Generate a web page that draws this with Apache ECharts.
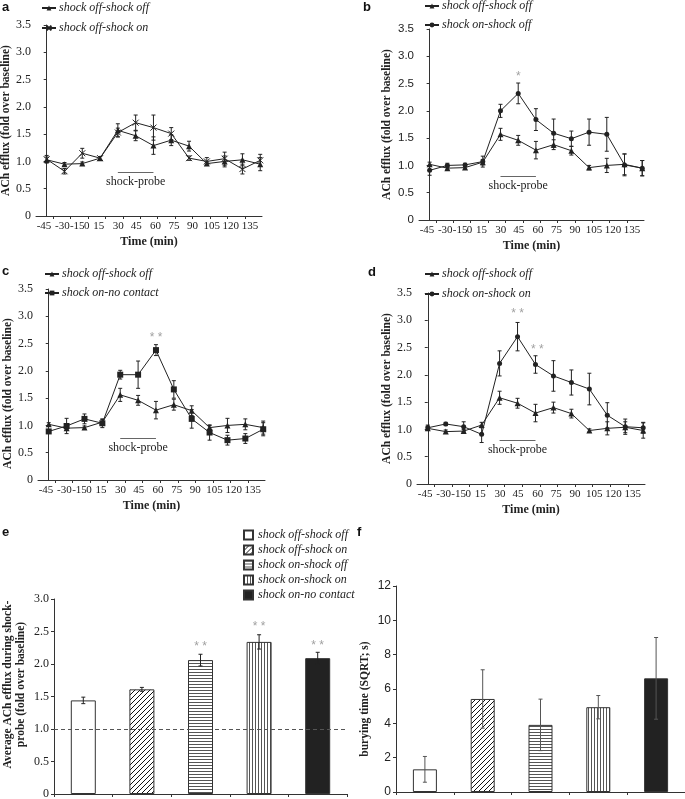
<!DOCTYPE html>
<html><head><meta charset="utf-8">
<script src="https://cdn.jsdelivr.net/npm/echarts@6/dist/echarts.min.js"></script>
<style>html,body{margin:0;padding:0;background:#fff}#c{width:685px;height:799px}</style>
</head><body><div id="c"></div>
<script>
// ---------- data ----------
const TIME_LABELS = ['-45','-30','-15','0','15','30','45','60','75','90','105','120','135'];
const SHOCK_PROBE = [4, 6];            // index span of the shock-probe period

const A_OFF_OFF     = [1.03,0.95,0.96,1.06,1.57,1.47,1.29,1.39,1.28,0.96,1.00,1.03,0.95];
const A_OFF_OFF_ERR = [0.05,0.03,0.03,0.03,0.12,0.09,0.16,0.10,0.09,0.03,0.10,0.11,0.12];
const A_OFF_ON      = [1.04,0.82,1.15,1.06,1.53,1.71,1.62,1.51,1.06,1.00,1.05,0.86,1.02];
const A_OFF_ON_ERR  = [0.07,0.05,0.09,0.03,0.08,0.14,0.23,0.11,0.04,0.07,0.12,0.09,0.11];

const B_OFF_OFF     = [1.02,0.95,0.96,1.06,1.57,1.46,1.28,1.38,1.27,0.96,1.00,1.02,0.95];
const B_OFF_OFF_ERR = [0.04,0.03,0.03,0.05,0.11,0.09,0.16,0.09,0.08,0.04,0.13,0.19,0.14];
const B_ON_OFF      = [0.91,1.00,1.01,1.07,2.00,2.32,1.84,1.59,1.49,1.61,1.57,1.01,0.95];
const B_ON_OFF_ERR  = [0.09,0.04,0.03,0.10,0.12,0.19,0.20,0.26,0.14,0.24,0.31,0.20,0.14];

const C_OFF_OFF     = [1.02,0.95,0.96,1.06,1.56,1.46,1.28,1.38,1.27,0.96,1.00,1.02,0.96];
const C_OFF_OFF_ERR = [0.03,0.03,0.03,0.05,0.12,0.09,0.16,0.10,0.09,0.04,0.13,0.10,0.12];
const C_ON_NC       = [0.89,0.99,1.12,1.04,1.93,1.93,2.38,1.66,1.12,0.87,0.73,0.76,0.93];
const C_ON_NC_ERR   = [0.03,0.14,0.09,0.08,0.08,0.25,0.10,0.16,0.17,0.14,0.09,0.09,0.12];

const D_OFF_OFF     = [1.02,0.96,0.97,1.08,1.58,1.48,1.30,1.40,1.29,0.98,1.02,1.04,0.98];
const D_OFF_OFF_ERR = [0.04,0.03,0.03,0.05,0.12,0.09,0.16,0.10,0.08,0.03,0.12,0.10,0.14];
const D_ON_ON       = [1.03,1.10,1.05,0.91,2.21,2.70,2.19,1.98,1.86,1.74,1.26,1.05,1.03];
const D_ON_ON_ERR   = [0.05,0.03,0.09,0.15,0.23,0.26,0.16,0.28,0.23,0.29,0.23,0.14,0.10];

// significance marks: [x index, y value, text]
const B_STARS = [[5, 2.62, '*']];
const C_STARS = [[6, 2.60, '* *']];
const D_STARS = [[5, 3.12, '* *'], [6.1, 2.47, '* *']];

const GROUPS = ['shock off-shock off','shock off-shock on','shock on-shock off','shock on-shock on','shock on-no contact'];
const E_MEAN = [1.44, 1.61, 2.06, 2.34, 2.09];
const E_ERR  = [0.05, 0.03, 0.09, 0.11, 0.09];
const E_STARS = [[2, 2.27, '* *'], [3, 2.57, '* *'], [4, 2.28, '* *']];
const F_MEAN = [1.32, 5.42, 3.91, 4.94, 6.62];
const F_ERR  = [0.75, 1.70, 1.50, 0.68, 2.38];

// ---------- layout / style ----------
const LABEL_POS = [-0.15, 0.88, 1.72, 2.25, 2.93, 4.02, 5.03, 6.12, 7.16, 8.2, 9.28, 10.35, 11.42];
const TICK_POS = [0.36,1.34,2.32,3.3,4.28,5.26,6.24,7.22,8.2,9.18,10.16,11.14];
const SERIF = '"Liberation Serif","Times New Roman",serif';
const SANS = '"Liberation Sans",Arial,sans-serif';
const INK = '#222';
const AX = '#333';
const X_PATH = 'path://M0,0L10,10M10,0L0,10';

function pattern(kind) {
  const c = document.createElement('canvas');
  const g = c.getContext('2d');
  if (kind === 'diag') {
    c.width = 5; c.height = 5;
    g.fillStyle = '#fff'; g.fillRect(0,0,5,5);
    g.strokeStyle = '#111'; g.lineWidth = 1;
    g.beginPath(); g.moveTo(-1,6); g.lineTo(6,-1); g.moveTo(-1,1); g.lineTo(1,-1); g.moveTo(4,6); g.lineTo(6,4); g.stroke();
  } else if (kind === 'hor') {
    c.width = 4; c.height = 3;
    g.fillStyle = '#fff'; g.fillRect(0,0,4,3);
    g.fillStyle = '#555'; g.fillRect(0,0,4,1);
  } else {
    c.width = 3; c.height = 4;
    g.fillStyle = '#fff'; g.fillRect(0,0,3,4);
    g.fillStyle = '#555'; g.fillRect(0,0,1,4);
  }
  return {image: c, repeat: 'repeat'};
}
const FILLS = ['#fff', pattern('diag'), pattern('hor'), pattern('ver'), '#222'];

function errRender(color, cap) {
  return function (params, api) {
    const x = api.value(0), y = api.value(1), e = api.value(2);
    const hi = api.coord([x, y + e]), lo = api.coord([x, y - e]);
    const st = {stroke: color, lineWidth: 1};
    return {type: 'group', children: [
      {type: 'line', shape: {x1: hi[0], y1: hi[1], x2: lo[0], y2: lo[1]}, style: st},
      {type: 'line', shape: {x1: hi[0]-cap, y1: hi[1], x2: hi[0]+cap, y2: hi[1]}, style: st},
      {type: 'line', shape: {x1: lo[0]-cap, y1: lo[1], x2: lo[0]+cap, y2: lo[1]}, style: st}
    ]};
  };
}

const grids = [], xAxes = [], yAxes = [], series = [], legends = [];

const PANELS = [
  {grid: {left: 36, top: 25, width: 226, height: 191}, yFont: SERIF, nameGap: 22, namePad: [0,0,0,0], legend: {left: 41, top: 2, gap: 8},
   series: [
     {name: 'shock off-shock off', v: A_OFF_OFF, e: A_OFF_OFF_ERR, symbol: 'triangle', size: 6},
     {name: 'shock off-shock on', v: A_OFF_ON, e: A_OFF_ON_ERR, symbol: X_PATH, size: 6, hollow: true}],
   probe: 0.81, stars: []},
  {grid: {left: 419, top: 29, width: 225, height: 191}, yFont: SANS, nameGap: 26, namePad: [0,0,0,0], legend: {left: 424, top: 0, gap: 7},
   series: [
     {name: 'shock off-shock off', v: B_OFF_OFF, e: B_OFF_OFF_ERR, symbol: 'triangle', size: 6},
     {name: 'shock on-shock off', v: B_ON_OFF, e: B_ON_OFF_ERR, symbol: 'circle', size: 5}],
   probe: 0.80, stars: B_STARS},
  {grid: {left: 38, top: 289, width: 227, height: 191}, yFont: SERIF, nameGap: 24, namePad: [0,18,0,0], legend: {left: 44, top: 268, gap: 7},
   series: [
     {name: 'shock off-shock off', v: C_OFF_OFF, e: C_OFF_OFF_ERR, symbol: 'triangle', size: 6},
     {name: 'shock on-no contact', v: C_ON_NC, e: C_ON_NC_ERR, symbol: 'rect', size: 6}],
   probe: 0.77, stars: C_STARS},
  {grid: {left: 417, top: 293, width: 228, height: 191}, yFont: SERIF, nameGap: 23, namePad: [0,0,0,0], legend: {left: 424, top: 268, gap: 8},
   series: [
     {name: 'shock off-shock off', v: D_OFF_OFF, e: D_OFF_OFF_ERR, symbol: 'triangle', size: 6},
     {name: 'shock on-shock on', v: D_ON_ON, e: D_ON_ON_ERR, symbol: 'circle', size: 5}],
   probe: 0.80, stars: D_STARS}
];

PANELS.forEach((p, gi) => {
  const tag = 'abcd'[gi];
  grids.push(Object.assign({outerBoundsMode: 'none', containLabel: false}, p.grid));
  xAxes.push({
    gridIndex: gi, type: 'value', min: -0.6, max: 12.1,
    axisLine: {lineStyle: {color: AX, width: 1}},
    axisTick: {show: true, length: 3, lineStyle: {color: AX}, customValues: TICK_POS},
    splitLine: {show: false},
    axisLabel: {
      customValues: LABEL_POS, margin: 5, color: INK, fontFamily: SERIF, fontSize: 11,
      formatter: (val) => {
        let k = 0, d = 1e9;
        LABEL_POS.forEach((q, i) => { if (Math.abs(q - val) < d) { d = Math.abs(q - val); k = i; } });
        return TIME_LABELS[k];
      }
    },
    name: 'Time (min)', nameLocation: 'middle', nameGap: 20,
    nameTextStyle: {fontFamily: SERIF, fontWeight: 'bold', fontSize: 12, color: INK}
  });
  yAxes.push({
    gridIndex: gi, type: 'value', min: 0, max: 3.5, interval: 0.5,
    axisLine: {show: true, lineStyle: {color: AX}},
    axisTick: {show: true, length: 3, lineStyle: {color: AX}},
    splitLine: {show: false},
    axisLabel: {margin: 5, color: INK, fontFamily: p.yFont, fontSize: p.yFont === SANS ? 11.5 : 12,
      formatter: v => v === 0 ? '0' : v.toFixed(1)},
    name: 'ACh efflux (fold over baseline)', nameLocation: 'middle', nameGap: p.nameGap,
    nameTextStyle: {fontFamily: SERIF, fontWeight: 'bold', fontSize: 11.5, color: INK, padding: p.namePad}
  });
  const names = [];
  p.series.forEach((s, si) => {
    const nm = tag + '|' + s.name;
    names.push(nm);
    const ser = {
      type: 'line', name: nm, xAxisIndex: gi, yAxisIndex: gi,
      data: s.v.map((v, i) => [i, v]),
      symbol: s.symbol, symbolSize: s.size, showSymbol: true,
      lineStyle: {color: INK, width: 1},
      itemStyle: s.hollow ? {color: '#fff', borderColor: INK, borderWidth: 1} : {color: INK},
      z: 4
    };
    if (si === 0) {
      ser.markLine = {
        silent: true, symbol: 'none', animation: false,
        lineStyle: {color: '#666', type: 'solid', width: 1},
        label: {show: true, position: 'insideMiddleBottom', formatter: 'shock-probe', color: INK,
          fontFamily: SERIF, fontSize: 12, distance: 4},
        data: [[{coord: [SHOCK_PROBE[0], p.probe]}, {coord: [SHOCK_PROBE[1], p.probe]}]]
      };
    }
    series.push(ser);
    series.push({
      type: 'custom', xAxisIndex: gi, yAxisIndex: gi, silent: true, z: 3,
      encode: {x: 0, y: 1},
      data: s.v.map((v, i) => [i, v, s.e[i]]),
      renderItem: errRender(INK, 2)
    });
  });
  if (p.stars.length) {
    series.push({
      type: 'scatter', xAxisIndex: gi, yAxisIndex: gi, symbolSize: 0, silent: true,
      data: p.stars,
      label: {show: true, position: 'inside', formatter: q => q.value[2], color: '#888', fontSize: 12, fontFamily: SANS}
    });
  }
  legends.push({
    data: names, left: p.legend.left, top: p.legend.top, orient: 'vertical', padding: 0,
    itemGap: p.legend.gap, itemWidth: 14, itemHeight: 6, selectedMode: false,
    formatter: n => n.split('|')[1],
    textStyle: {fontFamily: SERIF, fontStyle: 'italic', fontSize: 12, color: INK, lineHeight: 12, padding: [0,0,0,-2]}
  });
});

// ---------- panels e and f ----------
const BAR_PANELS = [
  {grid: {left: 54, top: 599, width: 293, height: 195}, max: 3, interval: 0.5, font: SERIF,
   fmt: v => v === 0 ? '0' : v.toFixed(1), mean: E_MEAN, err: E_ERR, tag: 'e',
   name: 'Average ACh efflux during shock-\nprobe (fold over baseline)', nameGap: 26, namePad: [0,0,0,24],
   barWidth: 25, errColor: INK},
  {grid: {left: 396, top: 586, width: 289, height: 206}, max: 12, interval: 2, font: SANS,
   fmt: v => String(v), mean: F_MEAN, err: F_ERR, tag: 'f',
   name: 'burying time (SQRT; s)', nameGap: 24, namePad: [0,20,0,0], barWidth: 24, errColor: '#555'}
];
BAR_PANELS.forEach((p, k) => {
  const gi = 4 + k;
  grids.push(Object.assign({outerBoundsMode: 'none', containLabel: false}, p.grid));
  xAxes.push({
    gridIndex: gi, type: 'category', data: GROUPS.map(() => ''), boundaryGap: true,
    axisLine: {lineStyle: {color: AX}},
    axisTick: {show: true, length: 3, lineStyle: {color: AX}},
    axisLabel: {show: false}
  });
  yAxes.push({
    gridIndex: gi, type: 'value', min: 0, max: p.max, interval: p.interval,
    axisLine: {show: true, lineStyle: {color: AX}},
    axisTick: {show: true, length: 3, lineStyle: {color: AX}},
    splitLine: {show: false},
    axisLabel: {margin: 5, color: INK, fontFamily: p.font, fontSize: 12, formatter: p.fmt},
    name: p.name, nameLocation: 'middle', nameGap: p.nameGap,
    nameTextStyle: {fontFamily: SERIF, fontWeight: 'bold', fontSize: 11.5, color: INK, lineHeight: 13, padding: p.namePad}
  });
  GROUPS.forEach((g, i) => {
    const s = {
      type: 'bar', name: p.tag + '|' + g, xAxisIndex: gi, yAxisIndex: gi,
      data: p.mean.map((v, j) => j === i ? v : '-'),
      barWidth: p.barWidth, barGap: '-100%',
      itemStyle: {color: FILLS[i], borderColor: '#333', borderWidth: 1}, z: 2
    };
    if (p.tag === 'e' && i === 0) {
      s.markLine = {silent: true, symbol: 'none', animation: false,
        lineStyle: {color: '#555', type: [4, 3], width: 1}, label: {show: false},
        data: [{yAxis: 1}]};
    }
    series.push(s);
  });
  series.push({
    type: 'custom', xAxisIndex: gi, yAxisIndex: gi, silent: true, z: 5,
    encode: {x: 0, y: 1},
    data: p.mean.map((v, i) => [i, v, p.err[i]]),
    renderItem: errRender(p.errColor, 2)
  });
  if (p.tag === 'e') {
    series.push({
      type: 'scatter', xAxisIndex: gi, yAxisIndex: gi, symbolSize: 0, silent: true,
      data: E_STARS,
      label: {show: true, position: 'inside', formatter: q => q.value[2], color: '#888', fontSize: 12, fontFamily: SANS}
    });
  }
});
legends.push({
  data: GROUPS.map(g => 'e|' + g), left: 243, top: 529, orient: 'vertical', padding: 0,
  itemGap: 3, itemWidth: 9, itemHeight: 9, icon: 'rect', selectedMode: false,
  formatter: n => n.split('|')[1],
  textStyle: {fontFamily: SERIF, fontStyle: 'italic', fontSize: 12, color: INK, lineHeight: 12}
});

const LETTERS = [['a', 2, 1], ['b', 363, 1], ['c', 2, 265], ['d', 368, 266], ['e', 2, 526], ['f', 357, 526]];
const graphic = LETTERS.map(([t, x, y]) => ({
  type: 'text', left: x, top: y,
  style: {text: t, font: 'bold 13px ' + SANS, fill: '#111'}
}));

const chart = echarts.init(document.getElementById('c'), null, {renderer: 'canvas', width: 685, height: 799});
chart.setOption({
  animation: false, backgroundColor: '#fff',
  grid: grids, xAxis: xAxes, yAxis: yAxes, series, legend: legends, graphic
});
</script>
</body></html>
